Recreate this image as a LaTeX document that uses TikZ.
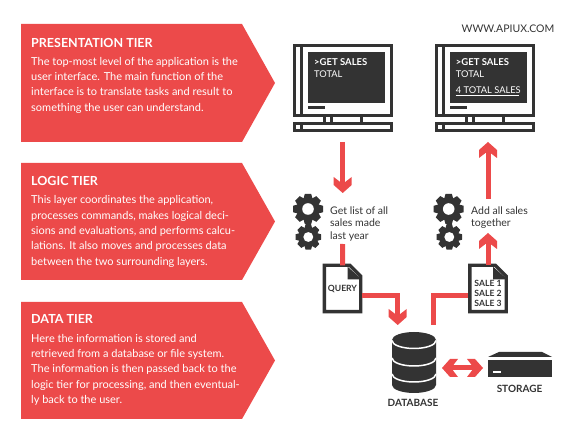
\documentclass[tikz,border=0pt]{standalone}
\usepackage{fontspec}
\setmainfont{Lato}
\usetikzlibrary{arrows.meta}
\definecolor{tierred}{HTML}{EC4A4A}
\definecolor{icondark}{HTML}{333333}
\pgfdeclarearrow{
	name=Chevron,
	setup code={
		\pgfarrowssettipend{0pt}
		\pgfarrowssetlineend{-9pt}
		\pgfarrowssetvisualbackend{-16pt}
		\pgfarrowssetbackend{-16pt}
		\pgfarrowshullpoint{0pt}{0pt}
		\pgfarrowsupperhullpoint{-16pt}{9pt}
	},
	drawing code={
		\pgfpathmoveto{\pgfpoint{0pt}{0pt}}
		\pgfpathlineto{\pgfpoint{-8pt}{9pt}}
		\pgfpathlineto{\pgfpoint{-16pt}{9pt}}
		\pgfpathlineto{\pgfpoint{-11pt}{2.5pt}}
		\pgfpathlineto{\pgfpoint{-11pt}{-2.5pt}}
		\pgfpathlineto{\pgfpoint{-16pt}{-9pt}}
		\pgfpathlineto{\pgfpoint{-8pt}{-9pt}}
		\pgfpathclose
		\pgfusepathqfill
	}
}
\tikzset{
	tierbox/.style={fill=tierred},
	tierhead/.style={anchor=west, inner sep=0pt, text=white, font=\fontsize{12.5}{15}\selectfont\bfseries},
	tiertext/.style={anchor=north west, inner sep=0pt, align=left, text=white, font=\fontsize{11}{15.35}\selectfont},
	flow/.style={draw=tierred, line width=5pt},
	arrow/.style={flow, -{Chevron[]}},
	twoway/.style={flow, {Chevron[]}-{Chevron[]}},
	frame/.style={draw=icondark, line width=3.4pt},
	screen/.style={fill=icondark},
	screentext/.style={anchor=west, inner sep=0pt, text=white, font=\fontsize{9.3}{12}\selectfont},
	gearnote/.style={anchor=north west, inner sep=0pt, align=left, text=icondark, font=\fontsize{10.5}{12.4}\selectfont},
	paper/.style={minimum width=36pt, minimum height=46pt, inner sep=0pt, align=center, text=icondark, font=\fontsize{8.6}{10}\selectfont\bfseries},
	caption/.style={inner sep=0pt, text=icondark, font=\fontsize{10}{12}\selectfont\bfseries},
	gear/.pic={
		\foreach \a in {0,45,...,315}
			\fill[icondark, rotate=\a] (-4.6,10) -- (-3.2,15) -- (3.2,15) -- (4.6,10) -- cycle;
		\fill[icondark] (0,0) circle[radius=11.5pt];
		\fill[white] (0,0) circle[radius=5.8pt];
	},
	monitor/.pic={
		\draw[frame] (1.5,1.5) rectangle (98.5,71.5);
		\draw[frame] (8.7,1.5) -- (8.7,71.5);
		\fill[screen] (15,8) rectangle (92,59);
		\fill[screen] (15,62) rectangle (32,65);
		\draw[frame] (31.5,73) -- (31.5,78);
		\draw[frame] (38.5,73) -- (38.5,78);
		\draw[frame] (68.5,73) -- (68.5,78);
		\draw[frame] (1.5,79.5) rectangle (98.5,86.5);
		\draw[frame] (8.7,79.5) -- (8.7,86.5);
	}
}

\begin{document}
\begin{tikzpicture}[x=1pt, y=-1pt]
\useasboundingbox (0,0) rectangle (574,443);

% tiers
\fill[tierbox] (21,24) -- (242,24) -- (275,83) -- (242,142) -- (21,142) -- cycle;
\fill[tierbox] (21,163) -- (242,163) -- (275,221.5) -- (242,280) -- (21,280) -- cycle;
\fill[tierbox] (21,302) -- (242,302) -- (275,360.5) -- (242,419) -- (21,419) -- cycle;

\node[tierhead] (preshead) at (31,42.5) {PRESENTATION TIER};
\node[tiertext] (prestext) at (31,57) {The top-most level of the application is the\\user interface. The main function of the\\interface is to translate tasks and result to\\something the user can understand.};

\node[tierhead] (logichead) at (31,181) {LOGIC TIER};
\node[tiertext] (logictext) at (31,195.5) {This layer coordinates the application,\\processes commands, makes logical deci-\\sions and evaluations, and performs calcu-\\lations. It also moves and processes data\\between the two surrounding layers.};

\node[tierhead] (datahead) at (31,319) {DATA TIER};
\node[tiertext] (datatext) at (31,334) {Here the information is stored and\\retrieved from a database or file system.\\The information is then passed back to the\\logic tier for processing, and then eventual-\\ly back to the user.};

\node[inner sep=0pt, text=icondark, font=\fontsize{10.5}{12}\selectfont] (site) at (508,29) {WWW.APIUX.COM};

% monitors
\pic at (293,44) {monitor};
\pic at (434.7,44) {monitor};
\node[screentext, font=\fontsize{9.5}{12}\selectfont\bfseries] (leftget) at (314,62) {>GET SALES};
\node[screentext] (lefttotal) at (314,74) {TOTAL};
\node[screentext, font=\fontsize{9.5}{12}\selectfont\bfseries] (rightget) at (455.7,62) {>GET SALES};
\node[screentext] (righttotal) at (455.7,74) {TOTAL};
\node[screentext] (rightsum) at (455.7,90.5) {4 TOTAL SALES};
\draw[white, line width=.8pt] (rightsum.west |- 0,95) -- (519,95);

% gears
\pic at (308,209) {gear};
\pic[scale=.85] at (308.3,237) {gear};
\pic at (448.7,209) {gear};
\pic[scale=.85] at (449.3,237) {gear};
\node[gearnote] (leftnote) at (330,206.5) {Get list of all\\sales made\\last year};
\node[gearnote] (rightnote) at (471,206.5) {Add all sales\\together};

% documents
\node[paper] (query) at (342.5,288.5) {QUERY};
\node[paper] (sales) at (488,288.5) {};
\node[paper] (salelist) at (488,293) {SALE 1\\SALE 2\\SALE 3};
\draw[frame, miter limit=2] (query.south west) -- (query.north west) -- ([xshift=-11pt]query.north east) -- ([yshift=-11pt]query.north east) -- (query.south east) -- cycle;
\fill[icondark] ([xshift=-13pt,yshift=-1.5pt]query.north east) -- ([xshift=1pt,yshift=-14pt]query.north east) -- ([xshift=-13pt,yshift=-14pt]query.north east) -- cycle;
\draw[frame, miter limit=2] (sales.south west) -- (sales.north west) -- ([xshift=-11pt]sales.north east) -- ([yshift=-11pt]sales.north east) -- (sales.south east) -- cycle;
\fill[icondark] ([xshift=-13pt,yshift=-1.5pt]sales.north east) -- ([xshift=1pt,yshift=-14pt]sales.north east) -- ([xshift=-13pt,yshift=-14pt]sales.north east) -- cycle;

% database
\fill[icondark] (392,340) arc[start angle=180, end angle=0, x radius=22pt, y radius=8pt] -- (436,385) arc[start angle=0, end angle=-180, x radius=22pt, y radius=8pt] -- cycle;
\draw[white, line width=1.5pt] (392,340.5) arc[start angle=180, end angle=360, x radius=22pt, y radius=8pt];
\draw[white, line width=1.5pt] (392,358) arc[start angle=180, end angle=360, x radius=22pt, y radius=8pt];
\draw[white, line width=1.5pt] (392,374) arc[start angle=180, end angle=360, x radius=22pt, y radius=8pt];
\node[caption] (database) at (413,403) {DATABASE};

% storage
\fill[icondark] (488,357) -- (499,352) -- (542,352) -- (552,357) -- cycle;
\fill[icondark] (488,360) rectangle (552,377);
\fill[white] (493,371) rectangle (501,373);
\node[caption] (storage) at (519.5,389) {STORAGE};

% free ends of the connectors
\coordinate (leftout) at (342.7,142);
\coordinate (leftin) at (342.7,193);
\coordinate (leftdown) at (342.7,244);
\coordinate (rightdown) at (488,199);
\coordinate (rightup) at (488,142);
\coordinate (gearsin) at (488,233);
\coordinate (dbin) at (397.7,325);
\coordinate (dbout) at (433,325);
\coordinate (dbside) at (442,368);
\coordinate (storeside) at (483,368);

\draw [arrow] (leftout) -- (leftin);
\draw [arrow] (rightdown) -- (rightup);
\draw [flow] (leftdown) -- (query.north);
\draw [arrow] (sales.north) -- (gearsin);
\draw [arrow] ([yshift=-7.5pt,xshift=1.5pt]query.east) -| (dbin);
\draw [flow] (dbout) |- ([yshift=-7.5pt,xshift=-1.5pt]sales.west);
\draw [twoway] (dbside) -- (storeside);

\end{tikzpicture}
\end{document}
